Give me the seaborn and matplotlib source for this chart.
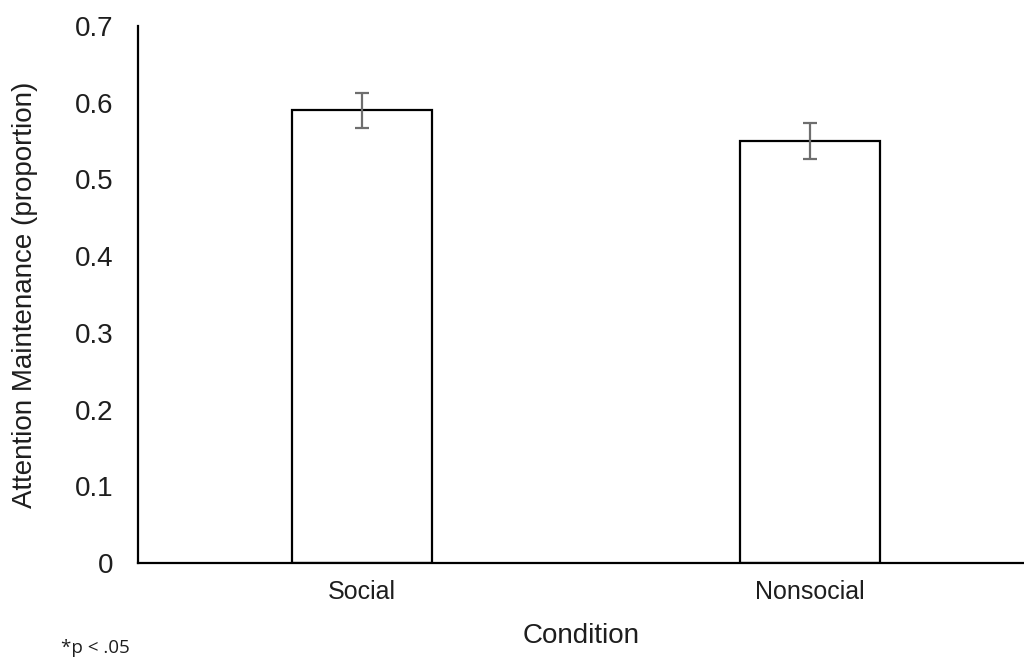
import pandas as pd
import seaborn as sns
import matplotlib.pyplot as plt

# data
conditions = ["Social", "Nonsocial"]
means = [0.59, 0.55]
errors = [0.023, 0.024]
y_ticks = [0, 0.1, 0.2, 0.3, 0.4, 0.5, 0.6, 0.7]
y_tick_labels = ["0", "0.1", "0.2", "0.3", "0.4", "0.5", "0.6", "0.7"]

sns.set_theme(style="white")
plt.rcParams["font.family"] = ["Liberation Sans", "DejaVu Sans"]

df = pd.DataFrame({"Condition": conditions, "Attention": means})

fig = plt.figure(figsize=(10.24, 6.61), dpi=100)
ax = fig.add_axes([138 / 1024, 1 - 563 / 661, 1 - 138 / 1024, (563 - 26) / 661])

sns.barplot(data=df, x="Condition", y="Attention", order=conditions,
            color="white", edgecolor="black", linewidth=1.6,
            width=0.3125, errorbar=None, ax=ax)

ax.errorbar(range(len(conditions)), means, yerr=errors, fmt="none",
            ecolor="#6e6e6e", elinewidth=1.6, capsize=5, capthick=1.6)

ax.set_ylim(0, 0.7)
ax.set_xlim(-0.5, 1.478)
ax.set_yticks(y_ticks)
ax.set_yticklabels(y_tick_labels)
ax.tick_params(axis="y", length=0, pad=18, labelsize=20, colors="#1e1e1e")
ax.tick_params(axis="x", length=0, pad=12, labelsize=18, colors="#1e1e1e")

ax.set_xlabel("Condition", fontsize=20, color="#1e1e1e", labelpad=14)
ax.set_ylabel("Attention Maintenance (proportion)", fontsize=20,
              color="#1e1e1e", labelpad=26)

sns.despine(ax=ax)
for side in ["left", "bottom"]:
    ax.spines[side].set_color("black")
    ax.spines[side].set_linewidth(1.6)

fig.text(61 / 1024, 1 - 648 / 661, "*p < .05", fontsize=13.5,
         family=["Open Sans", "DejaVu Sans"], color="#1e1e1e",
         va="center", ha="left")

fig.savefig("out.png", dpi=100)
